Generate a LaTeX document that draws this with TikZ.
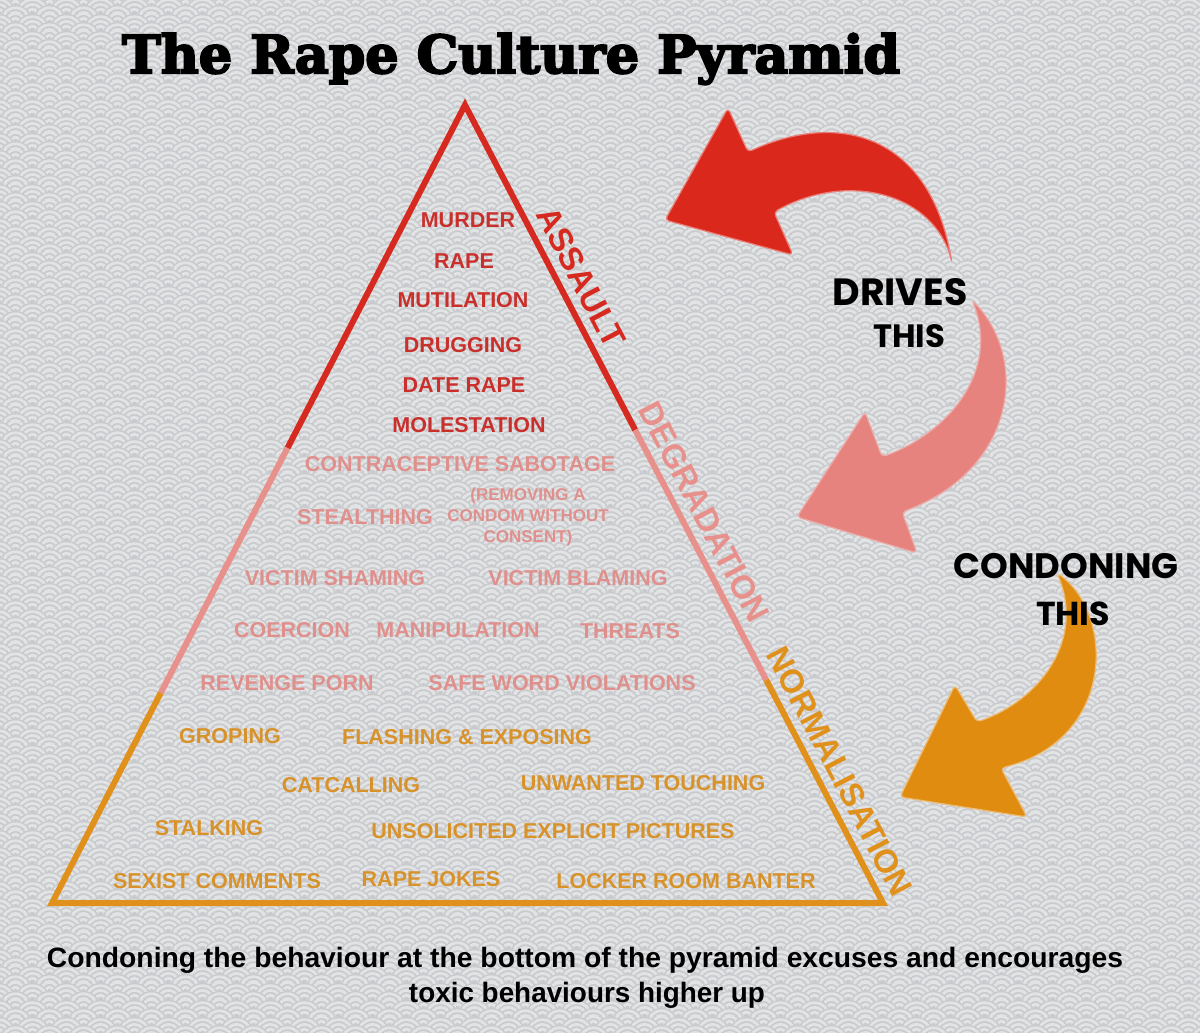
\documentclass[tikz,border=0pt]{standalone}
\usepackage{fontspec}
\usepackage{graphicx}
\setmainfont{Liberation Sans}
\newfontfamily\titlefont[BoldFeatures={FakeBold=4}]{DejaVu Serif}
\newfontfamily\popfont{Poppins}
\usetikzlibrary{calc,patterns}
\definecolor{bgc}{HTML}{C9CACD}
\definecolor{ringc}{HTML}{E2E3E5}
\definecolor{redl}{HTML}{D6291F}
\definecolor{pinkl}{HTML}{E8918C}
\definecolor{orl}{HTML}{E0911C}
\definecolor{redtxt}{HTML}{C9302C}
\definecolor{pinktxt}{HTML}{E0908C}
\definecolor{ortxt}{HTML}{D8922A}
\definecolor{reda}{HTML}{DA291C}
\definecolor{pinka}{HTML}{E6837E}
\definecolor{ora}{HTML}{E08C10}
\newcommand\sgscale[2]{%
  \pgfsetfillcolor{bgc}%
  \pgfpathcircle{\pgfpoint{#1pt}{#2pt}}{17pt}\pgfusepath{fill}%
  \pgfsetstrokecolor{ringc}\pgfsetlinewidth{3pt}%
  \pgfpathcircle{\pgfpoint{#1pt}{#2pt}}{14pt}%
  \pgfpathcircle{\pgfpoint{#1pt}{#2pt}}{9pt}%
  \pgfpathcircle{\pgfpoint{#1pt}{#2pt}}{4pt}%
  \pgfusepath{stroke}}
\pgfdeclarepatterninherentlycolored{seigaiha}
{\pgfpoint{0pt}{0pt}}{\pgfpoint{34pt}{17pt}}{\pgfpoint{34pt}{17pt}}
{%
  \sgscale{0}{34}\sgscale{34}{34}%
  \sgscale{-17}{25.5}\sgscale{17}{25.5}\sgscale{51}{25.5}%
  \sgscale{0}{17}\sgscale{34}{17}%
  \sgscale{-17}{8.5}\sgscale{17}{8.5}\sgscale{51}{8.5}%
  \sgscale{0}{0}\sgscale{34}{0}%
  \sgscale{-17}{-8.5}\sgscale{17}{-8.5}\sgscale{51}{-8.5}%
  \sgscale{0}{-17}\sgscale{34}{-17}%
}
\begin{document}
\begin{tikzpicture}[x=1pt,y=-1pt,
  it/.style={inner sep=0pt, font=\bfseries\fontsize{21.5}{24}\selectfont},
  ri/.style={it, text=redtxt},
  pi/.style={it, text=pinktxt},
  oi/.style={it, text=ortxt},
  sidelab/.style={inner sep=0pt, anchor=south, rotate=-62.35, font=\bfseries\fontsize{33}{33}\selectfont},
  edge/.style={line width=6pt, line join=miter},
  blockarrow/.style={rounded corners=4pt, line width=1.2pt}
]
\path[use as bounding box] (0,0) rectangle (1200,1033);
\fill[bgc] (0,0) rectangle (1200,1033);
\fill[pattern=seigaiha] (0,0) rectangle (1200,1033);

% pyramid
\coordinate (apex) at (465,105);
\coordinate (L1) at (287.5,448);
\coordinate (L2) at (160.7,693);
\coordinate (BL) at (52,903);
\coordinate (BR) at (883,903);
\coordinate (R2) at (766.2,680);
\coordinate (R1) at (635.2,430);
\draw[edge, redl] (L1) -- (apex) -- (R1);
\draw[edge, pinkl] (L1) -- (L2);
\draw[edge, pinkl] (R1) -- (R2);
\draw[edge, orl] (L2) -- (BL) -- (BR) -- (R2);

% side labels
\node[sidelab, text=redl] (assault) at (570.4,282.5) {ASSAULT};
\node[sidelab, text=pinkl] (degradation) at (693.6,517.5) {DEGRADATION};
\node[sidelab, text=orl] (normalisation) at (829.4,777) {NORMALISATION};

% items
\node[ri] (murder) at (468,220) {MURDER};
\node[ri] (rape) at (464,261) {RAPE};
\node[ri] (mutilation) at (463,300) {MUTILATION};
\node[ri] (drugging) at (463,345) {DRUGGING};
\node[ri] (daterape) at (464,385) {DATE RAPE};
\node[ri] (molestation) at (469,425) {MOLESTATION};

\node[pi] (contra) at (460,464) {CONTRACEPTIVE SABOTAGE};
\node[pi] (stealthing) at (365,517) {STEALTHING};
\node[pi, font=\bfseries\fontsize{17}{21}\selectfont, align=center] (removing) at (528,517)
  {(REMOVING A\\CONDOM WITHOUT\\CONSENT)};
\node[pi] (vshaming) at (335,578) {VICTIM SHAMING};
\node[pi] (vblaming) at (578,578) {VICTIM BLAMING};
\node[pi] (coercion) at (292,630) {COERCION};
\node[pi] (manipulation) at (458,630) {MANIPULATION};
\node[pi] (threats) at (630,631) {THREATS};
\node[pi] (revenge) at (287,683) {REVENGE PORN};
\node[pi] (safeword) at (562,683) {SAFE WORD VIOLATIONS};

\node[oi] (groping) at (230,736) {GROPING};
\node[oi] (flashing) at (467,737) {FLASHING \& EXPOSING};
\node[oi] (catcalling) at (351,785) {CATCALLING};
\node[oi] (unwanted) at (643,783) {UNWANTED TOUCHING};
\node[oi] (stalking) at (209,828) {STALKING};
\node[oi] (unsolicited) at (553,831) {UNSOLICITED EXPLICIT PICTURES};
\node[oi] (sexist) at (217,881) {SEXIST COMMENTS};
\node[oi] (rapejokes) at (431,879) {RAPE JOKES};
\node[oi] (locker) at (686,881) {LOCKER ROOM BANTER};

% arrows
\filldraw[blockarrow, fill=reda, draw=reda!60!white]
  (665,220) -- (728,108) -- (748,152)
  .. controls (840,110) and (930,135) .. (952,263)
  .. controls (935,195) and (850,170) .. (774,212)
  -- (793,255) -- cycle;
\filldraw[blockarrow, fill=pinka, draw=pinka!70!white]
  (797,517) -- (865,412) -- (882,457)
  .. controls (950,432) and (1000,370) .. (972,300)
  .. controls (1030,360) and (1015,470) .. (902,512)
  -- (917,553) -- cycle;
\filldraw[blockarrow, fill=ora, draw=ora!60!white]
  (900,797) -- (955,685) -- (977,722)
  .. controls (1040,700) and (1085,640) .. (1057,573)
  .. controls (1115,615) and (1115,740) .. (1001,768)
  -- (1027,817) -- cycle;

% title and labels
\node[anchor=base, inner sep=0pt] (title) at (511,73)
  {\resizebox{778pt}{!}{\titlefont\bfseries\fontsize{48}{52}\selectfont The Rape Culture Pyramid}};
\node[anchor=base, inner sep=0pt] (drives) at (900,305)
  {\resizebox{135pt}{!}{\popfont\bfseries\fontsize{40}{44}\selectfont DRIVES}};
\node[anchor=base, inner sep=0pt] (drivesthis) at (909,347)
  {\resizebox{72pt}{!}{\popfont\bfseries\fontsize{40}{44}\selectfont THIS}};
\node[anchor=base, inner sep=0pt] (condoning) at (1066,578)
  {\resizebox{225pt}{!}{\popfont\bfseries\fontsize{36}{40}\selectfont CONDONING}};
\node[anchor=base, inner sep=0pt] (condoningthis) at (1073,625)
  {\resizebox{74pt}{!}{\popfont\bfseries\fontsize{36}{40}\selectfont THIS}};

% caption
\node[anchor=base, inner sep=0pt] (cap1) at (585,967)
  {\resizebox{1076pt}{\height}{\bfseries\fontsize{28}{30}\selectfont Condoning the behaviour at the bottom of the pyramid excuses and encourages}};
\node[anchor=base, inner sep=0pt] (cap2) at (587,1002)
  {\resizebox{356pt}{\height}{\bfseries\fontsize{28}{30}\selectfont toxic behaviours higher up}};
\end{tikzpicture}
\end{document}
